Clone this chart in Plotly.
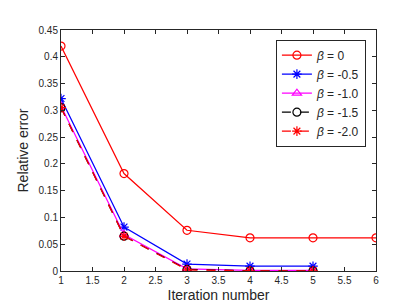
import plotly.graph_objects as go

iterations_long = [1, 2, 3, 4, 5, 6]
iterations_short = [1, 2, 3, 4, 5]
err_b0 = [0.420, 0.182, 0.076, 0.062, 0.062, 0.062]
err_b05 = [0.322, 0.082, 0.013, 0.009, 0.009]
err_b10 = [0.308, 0.068, 0.004, 0.001, 0.001]
err_b15 = [0.305, 0.065, 0.003, 0.0005, 0.0005]
err_b20 = [0.305, 0.065, 0.002, 0.0003, 0.0003]
labels = ["<i>β</i> = 0", "<i>β</i> = -0.5", "<i>β</i> = -1.0", "<i>β</i> = -1.5", "<i>β</i> = -2.0"]

series = [
    (iterations_long, err_b0, labels[0], "red", "circle-open", "solid"),
    (iterations_short, err_b05, labels[1], "blue", "asterisk-open", "solid"),
    (iterations_short, err_b10, labels[2], "magenta", "triangle-up-open", "solid"),
    (iterations_short, err_b15, labels[3], "black", "circle-open", "dash"),
    (iterations_short, err_b20, labels[4], "red", "asterisk-open", "dash"),
]

fig = go.Figure()
for x, y, name, color, sym, dash in series:
    fig.add_trace(go.Scatter(
        x=x, y=y, name=name, mode="lines+markers",
        line=dict(color=color, width=1.2, dash=dash),
        marker=dict(symbol=sym, size=8, color=color, line=dict(color=color, width=1.2)),
    ))

font = "Liberation Sans, Arial, sans-serif"
fig.update_layout(
    width=407, height=305,
    margin=dict(l=53, r=39, t=22, b=34),
    paper_bgcolor="white", plot_bgcolor="white",
    font=dict(family=font, size=10, color="#262626"),
    showlegend=True,
    legend=dict(x=0.968, y=0.96, xanchor="right", yanchor="top",
                bordercolor="#262626", borderwidth=1, bgcolor="white",
                font=dict(size=12, color="#262626"), tracegroupgap=0,
                itemwidth=30),
    xaxis=dict(range=[1, 6], tickvals=[1, 1.5, 2, 2.5, 3, 3.5, 4, 4.5, 5, 5.5, 6],
               ticktext=["1", "1.5", "2", "2.5", "3", "3.5", "4", "4.5", "5", "5.5", "6"],
               ticks="inside", ticklen=4, tickcolor="#262626", showgrid=False, zeroline=False,
               showline=True, linecolor="#262626", linewidth=1, mirror="ticks",
               title=dict(text="Iteration number", font=dict(size=14), standoff=5)),
    yaxis=dict(range=[0, 0.45], tickvals=[0, 0.05, 0.1, 0.15, 0.2, 0.25, 0.3, 0.35, 0.4, 0.45],
               ticktext=["0", "0.05", "0.1", "0.15", "0.2", "0.25", "0.3", "0.35", "0.4", "0.45"],
               ticks="inside", ticklen=4, tickcolor="#262626", showgrid=False, zeroline=False,
               showline=True, linecolor="#262626", linewidth=1, mirror="ticks",
               title=dict(text="Relative error", font=dict(size=14), standoff=6)),
)
fig.write_html("out.html")
